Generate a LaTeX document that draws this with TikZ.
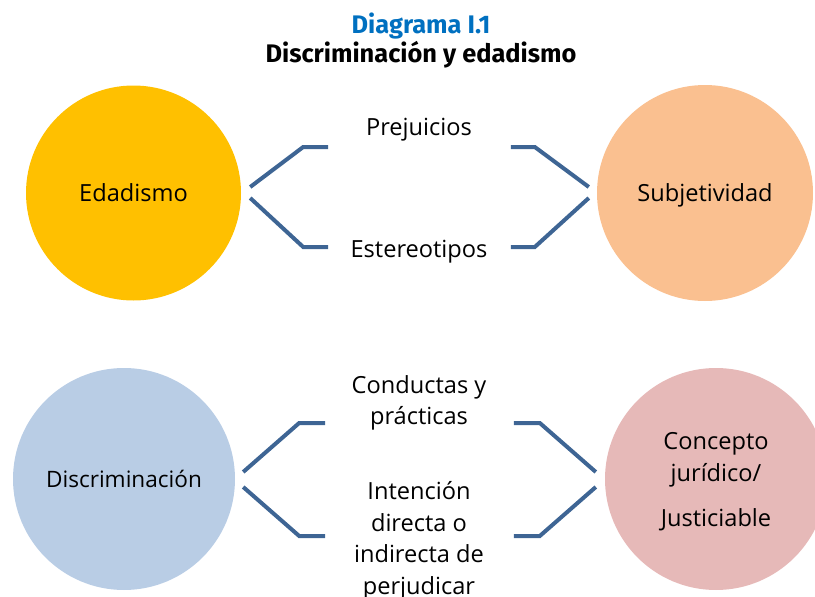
\documentclass[tikz,border=0pt]{standalone}
\usepackage{fontspec}
\setmainfont{Open Sans}
\newfontfamily\headfont{Fira Sans}
\usetikzlibrary{positioning,calc}
\definecolor{edadyellow}{RGB}{255,192,0}
\definecolor{subjpeach}{RGB}{250,192,144}
\definecolor{discblue}{RGB}{185,205,229}
\definecolor{concpink}{RGB}{230,185,184}
\definecolor{bracketblue}{RGB}{62,101,148}
\definecolor{titleblue}{RGB}{0,112,192}

\begin{document}
\begin{tikzpicture}[x=1pt,y=-1pt,
bubble/.style={circle, inner sep=0pt, align=center, font=\fontsize{23.6}{31.5}\selectfont},
idea/.style={inner sep=0pt, align=center, font=\fontsize{23.6}{31.5}\selectfont},
heading/.style={inner sep=0pt, anchor=base, font=\headfont\bfseries\fontsize{25.4}{30}\selectfont},
bracket/.style={draw=bracketblue, line width=4pt},
]
\useasboundingbox (0,0) rectangle (815,597);

%Title
\node[heading, text=titleblue] (title) at (421,33) {Diagrama I.1};
\node[heading] (subtitle) at ([yshift=-30]title.base) {Discriminación y edadismo};

%Circles
\node[bubble, fill=edadyellow, minimum size=215] (edad) at (133.5,193) {Edadismo};
\node[bubble, fill=subjpeach, minimum size=216, text depth=0pt] (subj) at (705,193) {Subjetividad};
\node[bubble, fill=discblue, minimum size=222, font=\fontsize{22.6}{30}\selectfont] (disc) at (124,479) {Discriminación};
\node[bubble, fill=concpink, minimum size=222] (conc) at (716,479) {\rule{0pt}{23pt}Concepto\\jurídico/\\[14pt]Justiciable};

%Middle texts
\node[idea, anchor=base] (prej) at (419,135) {Prejuicios};
\node[idea, anchor=base] (ester) at (419,257) {Estereotipos};
\node[idea] (cond) at (419,403) {Conductas y\\prácticas};
\node[idea] (inten) at (419,541) {Intención\\directa o\\indirecta de\\perjudicar};

%Brackets
\draw[bracket] ($(edad.east)+(9,-6)$) -- ++(53,-40) -- ++(25,0);
\draw[bracket] ($(edad.east)+(9,5)$) -- ++(53,49) -- ++(25,0);
\draw[bracket] ($(subj.west)+(-8,-6)$) -- ++(-54,-40) -- ++(-24,0);
\draw[bracket] ($(subj.west)+(-8,5)$) -- ++(-54,49) -- ++(-24,0);
\draw[bracket] ($(disc.east)+(8,-7)$) -- ++(56,-49) -- ++(26,0);
\draw[bracket] ($(disc.east)+(8,8)$) -- ++(56,49) -- ++(26,0);
\draw[bracket] ($(conc.west)+(-9,-7)$) -- ++(-56,-49) -- ++(-26,0);
\draw[bracket] ($(conc.west)+(-9,8)$) -- ++(-56,49) -- ++(-26,0);
\end{tikzpicture}
\end{document}
